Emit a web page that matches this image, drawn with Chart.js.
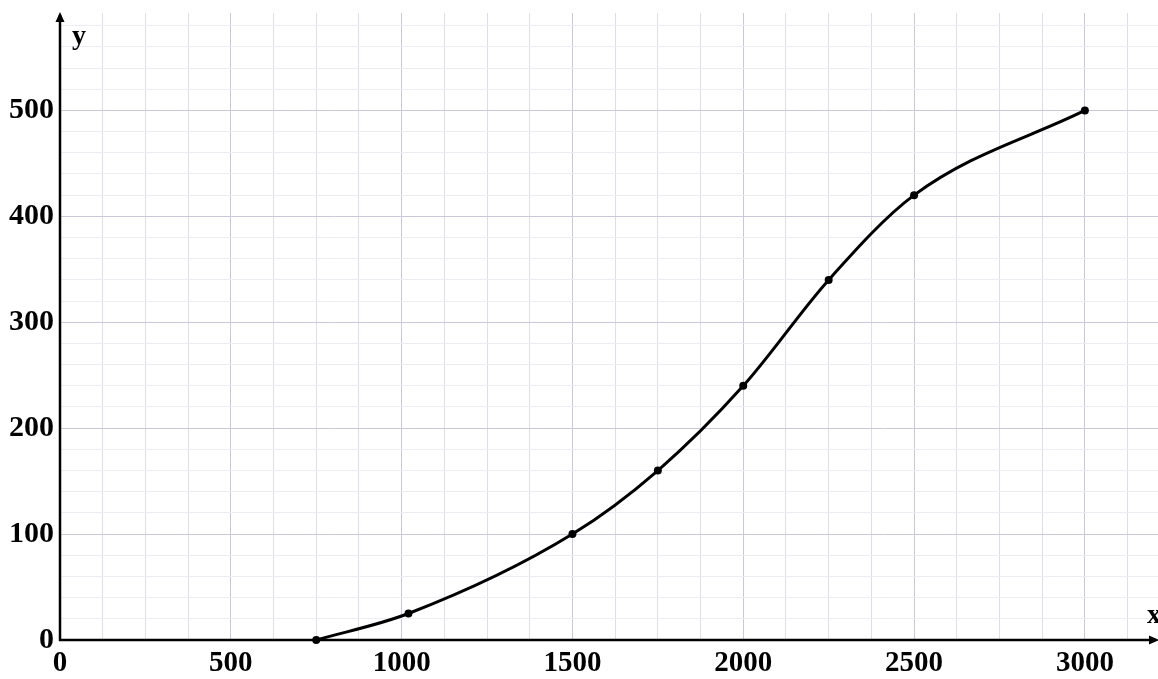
<!DOCTYPE html>
<html>
<head>
<meta charset="utf-8">
<script src="https://cdn.jsdelivr.net/npm/chart.js@4/dist/chart.umd.min.js"></script>
<style>
  html, body { margin: 0; padding: 0; background: #ffffff; overflow: hidden; }
  #wrap { width: 1158px; height: 679px; position: relative; }
</style>
</head>
<body>
<div id="wrap"><canvas id="c"></canvas></div>
<script>
// Measured points of the curve
const xValues = [750, 1020, 1500, 1750, 2000, 2250, 2500, 3000];
const yValues = [0, 25, 100, 160, 240, 340, 420, 500];

// Labelled ticks
const xTickLabels = [0, 500, 1000, 1500, 2000, 2500, 3000];
const yTickLabels = [0, 100, 200, 300, 400, 500];

// Grid spacing (minor lines) and axis extents
const xMinorStep = 125;
const yMinorStep = 20;
const xMax = 3214;
const yMax = 592;

const serif = '"Liberation Serif", "Times New Roman", serif';

function minorTicks(step, max) {
  const out = [];
  for (let v = 0; v <= max; v += step) out.push({ value: v });
  return out;
}

// Keep the plot area flush with the layout padding
function noLabelPadding(scale) {
  scale.paddingTop = 0;
  scale.paddingBottom = 0;
  scale.paddingLeft = 0;
  scale.paddingRight = 0;
}

// Axes with arrowheads and the axis letters
const axisArrows = {
  id: 'axisArrows',
  afterDraw(chart) {
    const { ctx, chartArea, scales } = chart;
    const x0 = scales.x.getPixelForValue(0);
    const y0 = scales.y.getPixelForValue(0);
    ctx.save();
    ctx.strokeStyle = '#000';
    ctx.fillStyle = '#000';
    ctx.lineWidth = 2.5;
    // y axis
    ctx.beginPath();
    ctx.moveTo(x0, y0 + 1);
    ctx.lineTo(x0, chartArea.top + 2);
    ctx.stroke();
    ctx.beginPath();
    ctx.moveTo(x0, chartArea.top - 1);
    ctx.lineTo(x0 - 4.5, chartArea.top + 9);
    ctx.lineTo(x0 + 4.5, chartArea.top + 9);
    ctx.closePath();
    ctx.fill();
    // x axis
    ctx.beginPath();
    ctx.moveTo(x0 - 1, y0);
    ctx.lineTo(chartArea.right - 2, y0);
    ctx.stroke();
    ctx.beginPath();
    ctx.moveTo(chartArea.right + 1, y0);
    ctx.lineTo(chartArea.right - 9, y0 - 4.5);
    ctx.lineTo(chartArea.right - 9, y0 + 4.5);
    ctx.closePath();
    ctx.fill();
    // axis letters
    ctx.font = 'bold 28px ' + serif;
    ctx.textBaseline = 'alphabetic';
    ctx.textAlign = 'left';
    ctx.fillText('y', x0 + 12, chartArea.top + 31);
    ctx.fillText('x', chartArea.right - 11, y0 - 17);
    ctx.restore();
  }
};

new Chart(document.getElementById('c'), {
  type: 'line',
  data: {
    datasets: [{
      data: xValues.map((x, i) => ({ x: x, y: yValues[i] })),
      borderColor: '#000',
      backgroundColor: '#000',
      borderWidth: 3,
      pointRadius: 4,
      pointBackgroundColor: '#000',
      pointBorderWidth: 0,
      cubicInterpolationMode: 'monotone',
      clip: false,
      fill: false
    }]
  },
  options: {
    responsive: true,
    maintainAspectRatio: false,
    animation: false,
    layout: { autoPadding: false, padding: { top: 13, right: 0, left: 0, bottom: 0 } },
    plugins: {
      legend: { display: false },
      tooltip: { enabled: false }
    },
    scales: {
      x: {
        type: 'linear',
        min: 0,
        max: xMax,
        afterBuildTicks(scale) { scale.ticks = minorTicks(xMinorStep, xMax); },
        afterFit(scale) { scale.height = 39; noLabelPadding(scale); },
        border: { display: false },
        grid: {
          drawTicks: false,
          lineWidth: 1,
          color: ctx => (xTickLabels.includes(ctx.tick.value) ? '#c9c9d9' : '#dedee8')
        },
        ticks: {
          autoSkip: false,
          maxRotation: 0,
          padding: 6,
          color: '#000',
          font: { family: serif, size: 29, weight: 'bold' },
          callback: v => (xTickLabels.includes(v) ? String(v) : '')
        }
      },
      y: {
        type: 'linear',
        min: 0,
        max: yMax,
        afterBuildTicks(scale) { scale.ticks = minorTicks(yMinorStep, yMax); },
        afterFit(scale) { scale.width = 60; noLabelPadding(scale); },
        border: { display: false },
        grid: {
          drawTicks: false,
          lineWidth: 1,
          color: ctx => (yTickLabels.includes(ctx.tick.value) ? '#c9c9d9' : '#ececf2')
        },
        ticks: {
          autoSkip: false,
          padding: 6,
          color: '#000',
          font: { family: serif, size: 30, weight: 'bold' },
          callback: v => (yTickLabels.includes(v) ? String(v) : '')
        }
      }
    }
  },
  plugins: [axisArrows]
});
</script>
</body>
</html>
